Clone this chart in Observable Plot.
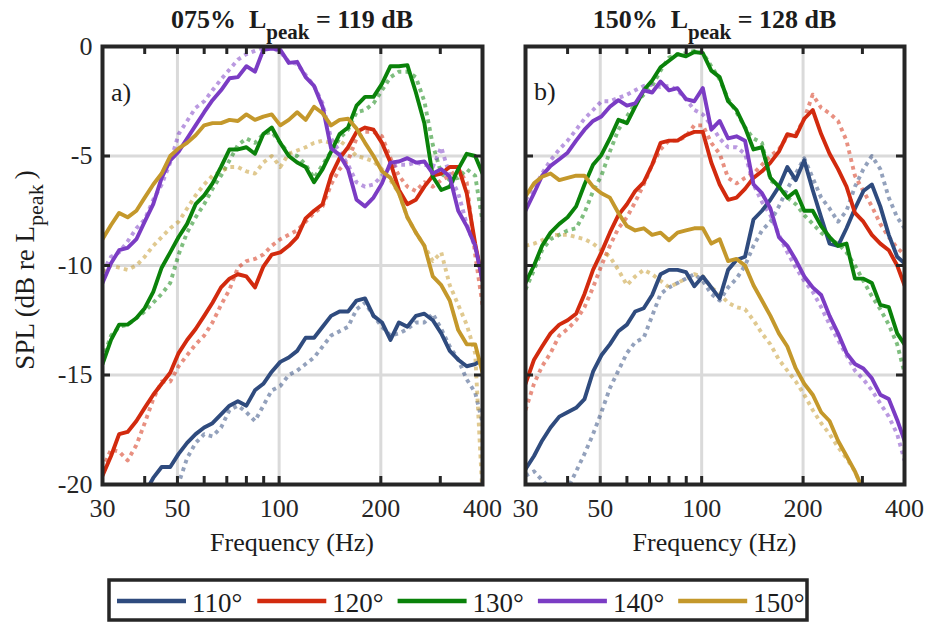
<!DOCTYPE html>
<html><head><meta charset="utf-8">
<script src="https://cdn.jsdelivr.net/npm/d3@7"></script>
<script src="https://cdn.jsdelivr.net/npm/@observablehq/plot@0.6"></script>
<style>
html,body{margin:0;padding:0;background:#fff;}
#root{position:relative;width:928px;height:622px;overflow:hidden;font-family:"Liberation Serif","DejaVu Serif","Times New Roman",Times,serif;}
#root > svg{position:absolute;}
#root svg text{font-family:"Liberation Serif","DejaVu Serif","Times New Roman",Times,serif !important;}
.lbl{white-space:pre;}
</style></head><body><div id="root"></div>
<script>
// ---------- data ----------
const freq = [30, 31.8, 33.6, 35.6, 37.8, 40, 42.4, 44.9, 47.6, 50.4, 53.4, 56.6, 60, 63.5, 67.3, 71.3, 75.5, 80, 84.8, 89.8, 95.1, 100.8, 106.8, 113.1, 119.8, 126.9, 134.5, 142.5, 151, 160, 169.5, 179.6, 190.3, 201.6, 213.6, 226.3, 239.7, 254, 269.1, 285.1, 302, 320, 339, 359.2, 380.5, 400];
const angles = ["110°", "120°", "130°", "140°", "150°"];
const colors = ["#2F4B7E", "#D22A0E", "#0A820A", "#7B3CC4", "#C4982B"];
const xTicks = [30, 50, 100, 200, 400];
const xMinor = [40, 50, 60, 70, 80, 90, 100, 200, 300];
const yTicks = [0, -5, -10, -15, -20];
const yGrid = [-5, -10, -15];
const xGrid = [50, 100, 200];
const titles = [["075%  L", "peak", " = 119 dB"], ["150%  L", "peak", " = 128 dB"]];
const panelTags = ["a)", "b)"];

// panel a (075%), solid = s, dotted = d
const a110s = [null,null,null,null,null,-20.4,-19.7,-19.2,-19.2,-18.6,-18.1,-17.7,-17.4,-17.2,-16.8,-16.4,-16.2,-16.4,-15.7,-15.4,-14.85,-14.4,-14.2,-13.9,-13.3,-13.3,-12.8,-12.3,-12.1,-12.1,-11.6,-11.5,-12.3,-12.6,-13.4,-12.6,-12.8,-12.3,-12.2,-12.5,-13.1,-13.9,-14.3,-14.6,-14.5,-14.3];
const a110d = [null,null,null,null,null,null,null,null,-21.5,-19.95,-18.8,-18.1,-17.7,-17.8,-17.4,-16.6,-16.4,-16.7,-17.1,-16.4,-15.7,-15.5,-15.0,-14.8,-14.5,-14.2,-13.7,-13.2,-13.0,-12.8,-12.0,-11.7,-12.3,-12.8,-13.2,-13.1,-12.9,-12.6,-12.6,-12.2,-12.9,-13.7,-14.3,-15.2,-15.8,-17.2];
const a120s = [-19.6,-18.7,-17.7,-17.6,-17.1,-16.5,-15.9,-15.4,-14.9,-14.0,-13.4,-12.9,-12.3,-11.7,-11.0,-10.6,-10.4,-10.5,-11.0,-10.05,-9.5,-9.4,-9.1,-8.7,-7.85,-7.5,-7.2,-5.9,-5.1,-4.6,-3.9,-3.7,-3.8,-4.4,-5.3,-6.55,-7.2,-7.0,-6.4,-5.9,-5.8,-5.5,-5.5,-6.7,-9.0,-10.7];
const a120d = [-19.3,-18.4,-18.5,-18.9,-18.2,-17.2,-16.1,-15.3,-15.3,-14.6,-14.1,-13.6,-13.2,-12.6,-11.8,-11.1,-10.1,-9.8,-9.7,-9.5,-9.1,-8.8,-8.6,-8.4,-8.0,-7.6,-7.3,-6.3,-5.6,-5.2,-4.2,-3.9,-3.9,-4.1,-5.1,-5.9,-6.4,-6.6,-6.2,-6.4,-6.1,-5.9,-5.6,-6.2,-9.5,-11.8];
const a130s = [-14.5,-13.4,-12.7,-12.7,-12.4,-11.95,-11.2,-10.1,-9.4,-8.7,-8.1,-7.2,-6.8,-6.25,-5.5,-4.7,-4.7,-4.6,-4.9,-4.0,-3.7,-4.4,-5.0,-5.3,-5.5,-6.2,-5.6,-4.8,-4.0,-3.7,-2.7,-2.3,-2.3,-1.7,-0.9,-0.9,-0.85,-2.1,-3.5,-5.95,-6.55,-6.4,-5.6,-4.9,-5.0,-5.8];
const a130d = [-14.3,-13.2,-12.8,-12.7,-12.4,-12.1,-11.7,-11.3,-10.8,-9.5,-8.5,-7.8,-7.2,-6.5,-5.9,-5.2,-4.5,-4.2,-4.4,-4.0,-3.9,-4.4,-4.9,-5.0,-5.4,-6.0,-5.4,-4.8,-4.2,-3.8,-3.0,-2.9,-2.6,-2.0,-1.4,-1.15,-1.15,-1.4,-2.5,-4.5,-5.8,-6.1,-6.0,-5.6,-5.9,-8.0];
const a140s = [-10.8,-9.9,-9.3,-9.2,-8.8,-8.0,-7.2,-6.0,-5.2,-4.8,-4.2,-3.6,-3.0,-2.45,-2.0,-1.45,-1.4,-0.9,-1.15,-0.15,-0.1,-0.15,-0.75,-0.7,-1.4,-1.8,-2.75,-4.65,-4.95,-5.6,-7.0,-7.3,-6.9,-6.25,-5.3,-5.25,-5.1,-5.3,-5.25,-5.8,-5.6,-5.95,-7.5,-8.2,-9.1,-10.7];
const a140d = [-10.3,-9.6,-9.4,-8.9,-8.3,-7.9,-7.0,-6.3,-5.3,-4.0,-3.4,-2.8,-2.5,-2.0,-1.5,-1.05,-0.6,-0.35,-0.2,-0.05,-0.05,-0.25,-0.7,-0.8,-1.3,-1.8,-2.6,-4.2,-4.8,-5.4,-6.2,-6.4,-6.3,-5.9,-5.5,-5.4,-5.4,-5.3,-5.4,-5.5,-4.6,-5.9,-6.7,-8.1,-9.2,-10.4];
const a150s = [-8.8,-8.15,-7.6,-7.8,-7.5,-6.9,-6.3,-5.8,-5.0,-4.65,-4.4,-4.05,-3.6,-3.5,-3.5,-3.35,-3.4,-3.1,-3.35,-3.2,-3.1,-3.6,-3.35,-3.0,-3.35,-2.75,-3.05,-3.6,-3.35,-3.3,-3.75,-4.4,-5.0,-5.7,-6.0,-6.7,-7.8,-8.5,-9.1,-10.5,-10.9,-11.6,-12.95,-13.6,-13.6,-14.9];
const a150d = [-10.3,-10.0,-10.1,-10.2,-10.0,-9.6,-9.1,-8.7,-8.3,-8.0,-7.4,-6.8,-6.3,-5.9,-5.7,-5.5,-5.5,-5.7,-5.8,-5.3,-5.0,-5.5,-4.9,-4.75,-4.6,-4.4,-4.3,-4.4,-4.3,-4.6,-5.0,-5.1,-5.25,-5.6,-6.1,-6.7,-7.8,-8.5,-9.1,-9.8,-9.4,-10.9,-11.8,-12.7,-14.0,-20.5];

// panel b (150%)
const b110s = [-19.3,-18.7,-18.0,-17.4,-16.9,-16.7,-16.5,-16.1,-14.85,-14.1,-13.6,-13.0,-12.7,-12.1,-11.95,-11.35,-10.4,-10.2,-10.2,-10.3,-10.95,-10.5,-11.0,-11.5,-10.2,-9.75,-9.6,-7.9,-7.5,-7.0,-6.4,-5.5,-6.1,-5.2,-6.55,-7.8,-9.0,-9.1,-8.3,-7.4,-6.6,-6.3,-7.3,-8.6,-9.6,-9.9];
const b110d = [-19.6,-19.4,-19.8,-20.2,-20.3,-20.2,-19.4,-18.6,-17.7,-16.7,-15.6,-14.8,-14.0,-13.5,-13.3,-12.3,-11.3,-11.0,-10.8,-10.6,-10.4,-10.7,-11.3,-11.6,-11.0,-10.6,-10.0,-9.1,-8.4,-8.0,-7.3,-6.5,-5.8,-5.1,-6.0,-6.9,-7.4,-8.0,-7.5,-6.4,-5.6,-5.0,-5.6,-6.9,-7.8,-8.3];
const b120s = [-15.4,-14.3,-13.7,-13.1,-12.7,-12.5,-12.2,-11.3,-10.2,-9.4,-8.5,-7.7,-7.2,-6.6,-6.2,-5.4,-4.4,-4.3,-4.3,-4.05,-3.9,-3.9,-5.3,-6.3,-7.0,-6.9,-6.5,-6.0,-5.7,-5.3,-4.8,-4.0,-4.1,-3.3,-2.9,-4.0,-4.9,-5.6,-6.4,-7.6,-8.0,-8.6,-9.0,-9.3,-10.0,-10.9];
const b120d = [-16.6,-15.4,-14.6,-14.0,-13.2,-12.9,-12.5,-11.9,-11.0,-10.0,-9.1,-8.3,-7.8,-7.1,-6.3,-5.4,-4.7,-4.3,-4.3,-4.1,-3.6,-3.6,-4.4,-4.9,-6.0,-6.25,-6.0,-5.8,-5.4,-5.0,-4.7,-4.1,-4.0,-3.3,-2.2,-2.8,-3.05,-3.4,-4.3,-5.9,-6.6,-7.3,-8.1,-8.7,-9.2,-9.5];
const b130s = [-10.8,-10.0,-9.1,-8.5,-8.1,-7.8,-7.3,-6.3,-5.4,-4.95,-4.2,-3.35,-3.5,-2.75,-2.0,-1.55,-0.95,-0.65,-0.35,-0.45,-0.25,-0.3,-1.1,-1.4,-2.5,-2.9,-3.7,-4.7,-4.6,-6.0,-6.4,-6.9,-6.6,-7.5,-7.5,-8.2,-8.7,-9.1,-9.0,-10.6,-10.6,-10.8,-11.8,-11.9,-13.1,-13.6];
const b130d = [-11.1,-10.2,-9.3,-8.8,-8.6,-8.4,-8.3,-7.6,-6.6,-5.9,-4.8,-3.8,-3.2,-2.6,-2.2,-1.8,-1.1,-0.5,-0.35,-0.3,-0.2,-0.3,-0.9,-1.5,-2.4,-3.0,-3.7,-4.2,-4.4,-6.1,-6.4,-6.9,-7.2,-7.7,-8.1,-8.5,-8.8,-9.0,-9.4,-10.0,-10.7,-11.4,-12.0,-12.7,-13.6,-14.9];
const b140s = [-7.5,-6.7,-5.9,-5.45,-5.15,-4.85,-4.3,-3.8,-3.4,-3.2,-2.75,-2.45,-2.7,-2.6,-2.0,-2.1,-1.6,-2.0,-1.9,-2.4,-2.5,-1.9,-3.8,-3.4,-4.2,-4.1,-4.3,-6.3,-6.7,-7.4,-8.7,-9.1,-9.75,-10.5,-11.0,-11.35,-12.3,-13.1,-14.0,-14.5,-14.7,-15.15,-15.9,-16.1,-17.05,-18.0];
const b140d = [-7.0,-6.5,-5.8,-5.2,-4.7,-4.3,-3.8,-3.3,-2.9,-2.5,-2.5,-2.35,-2.2,-2.0,-1.8,-1.75,-1.85,-1.8,-2.0,-2.4,-2.9,-3.1,-3.6,-4.2,-4.6,-4.6,-4.9,-6.3,-7.1,-7.7,-8.6,-9.4,-10.1,-10.7,-11.2,-11.9,-12.7,-13.4,-14.1,-14.8,-15.2,-15.7,-16.3,-16.9,-17.7,-18.9];
const b150s = [-6.85,-6.25,-5.95,-5.8,-6.1,-6.0,-5.9,-5.9,-6.4,-6.7,-6.9,-7.6,-8.2,-8.4,-8.3,-8.6,-8.5,-8.85,-8.5,-8.4,-8.3,-8.3,-9.0,-8.8,-9.8,-9.7,-10.0,-10.9,-11.6,-12.3,-13.1,-13.7,-14.7,-15.4,-15.9,-16.7,-17.1,-18.0,-18.7,-19.4,-20.3,null,null,null,null,null];
const b150d = [-9.1,-9.0,-8.85,-8.6,-8.6,-8.6,-8.7,-8.8,-9.0,-9.3,-9.6,-10.2,-10.9,-10.5,-10.2,-10.4,-10.7,-11.0,-10.8,-10.6,-10.4,-10.5,-11.0,-11.3,-11.7,-11.9,-12.0,-12.5,-13.1,-13.6,-14.3,-14.8,-15.3,-15.9,-16.6,-17.2,-17.7,-18.3,-18.8,-19.4,-20.3,null,null,null,null,null];

// ---------- drawing ----------
const ink = "#262626";
const FONT = '"Liberation Serif", "DejaVu Serif", "Times New Roman", Times, serif';

function makePanel(solid, dotted, cfg) {
  const H = 565, mt = 46, mb = 81;
  const innerW = cfg.width - cfg.marginLeft - cfg.marginRight;
  const innerH = H - mt - mb;
  const tk = 8;
  const lines = (arrs, dashed) => arrs.map((vals, i) =>
    Plot.line(freq.map((f, j) => ({f, v: vals[j]})), {
      x: "f", y: "v", stroke: colors[i], strokeWidth: 3.9,
      strokeOpacity: dashed ? 0.52 : 1,
      strokeDasharray: dashed ? "3.8,4.2" : undefined,
      strokeLinejoin: "round", strokeLinecap: dashed ? "butt" : "round",
      clip: true
    }));
  return Plot.plot({
    width: cfg.width, height: H,
    marginTop: mt, marginBottom: mb, marginLeft: cfg.marginLeft, marginRight: cfg.marginRight,
    style: {fontFamily: FONT, fontSize: "26px", background: "transparent", color: ink, overflow: "visible"},
    x: {type: "log", domain: [30, 400], ticks: xTicks, tickSize: 0, tickPadding: 14, tickFormat: d => String(d), label: null},
    y: {domain: [-20, 0], ticks: yTicks, tickSize: 0, tickPadding: 10, tickFormat: d => String(d), label: null, axis: cfg.showY ? "left" : null},
    marks: [
      Plot.ruleX(xGrid, {stroke: "#dadada", strokeWidth: 3}),
      Plot.ruleY(yGrid, {stroke: "#dadada", strokeWidth: 3}),
      ...lines(dotted, true),
      ...lines(solid, false),
      Plot.tickX(xMinor, {x: d => d, stroke: ink, strokeWidth: 3, insetTop: innerH - tk}),
      Plot.tickX(xMinor, {x: d => d, stroke: ink, strokeWidth: 3, insetBottom: innerH - tk}),
      Plot.tickY(yGrid, {y: d => d, stroke: ink, strokeWidth: 3, insetRight: innerW - tk}),
      Plot.tickY(yGrid, {y: d => d, stroke: ink, strokeWidth: 3, insetLeft: innerW - tk}),
      Plot.frame({stroke: ink, strokeWidth: 4})
    ]
  });
}

const root = document.getElementById("root");
const pa = makePanel([a110s, a120s, a130s, a140s, a150s], [a110d, a120d, a130d, a140d, a150d],
  {width: 500, marginLeft: 102, marginRight: 18, showY: true});
pa.style.left = "0px"; pa.style.top = "0px";
root.appendChild(pa);
const pb = makePanel([b110s, b120s, b130s, b140s, b150s], [b110d, b120d, b130d, b140d, b150d],
  {width: 428, marginLeft: 25, marginRight: 24, showY: false});
pb.style.left = "500px"; pb.style.top = "0px";
root.appendChild(pb);

// overlay: titles, labels, legend
const ov = d3.select(root).append("svg")
  .attr("width", 928).attr("height", 622)
  .style("position", "absolute").style("left", 0).style("top", 0)
  .attr("font-family", FONT).attr("fill", "#1c1c1c");

const centers = [292, 714.5];
titles.forEach((t, i) => {
  const tx = ov.append("text").attr("class", "lbl").attr("x", centers[i]).attr("y", 28)
    .attr("text-anchor", "middle").attr("font-weight", "bold").attr("font-size", 26);
  tx.append("tspan").text(t[0]);
  tx.append("tspan").attr("dy", 11).attr("font-size", 21).text(t[1]);
  tx.append("tspan").attr("dy", -11).text(t[2]);
  ov.append("text").attr("x", centers[i]).attr("y", 551).attr("text-anchor", "middle")
    .attr("font-size", 26).text("Frequency (Hz)");
});
ov.append("text").attr("x", 111).attr("y", 101).attr("font-size", 26).text(panelTags[0]);
ov.append("text").attr("x", 534).attr("y", 100).attr("font-size", 26).text(panelTags[1]);

const yl = ov.append("text").attr("class", "lbl").attr("transform", "translate(34,270) rotate(-90)")
  .attr("text-anchor", "middle").attr("font-size", 27);
yl.append("tspan").text("SPL (dB re L");
yl.append("tspan").attr("dy", 9).attr("font-size", 22).text("peak");
yl.append("tspan").attr("dy", -9).attr("dx", 5).text(")");

// legend
const lg = ov.append("g");
lg.append("rect").attr("x", 109).attr("y", 580).attr("width", 698).attr("height", 40)
  .attr("fill", "#fff").attr("stroke", ink).attr("stroke-width", 3.5);
angles.forEach((a, i) => {
  const x0 = 117 + 140.3 * i;
  lg.append("line").attr("x1", x0).attr("x2", x0 + 69).attr("y1", 601).attr("y2", 601)
    .attr("stroke", colors[i]).attr("stroke-width", 4.5);
  lg.append("text").attr("x", x0 + 75).attr("y", 612).attr("font-size", 27).text(a);
});
</script></body></html>
